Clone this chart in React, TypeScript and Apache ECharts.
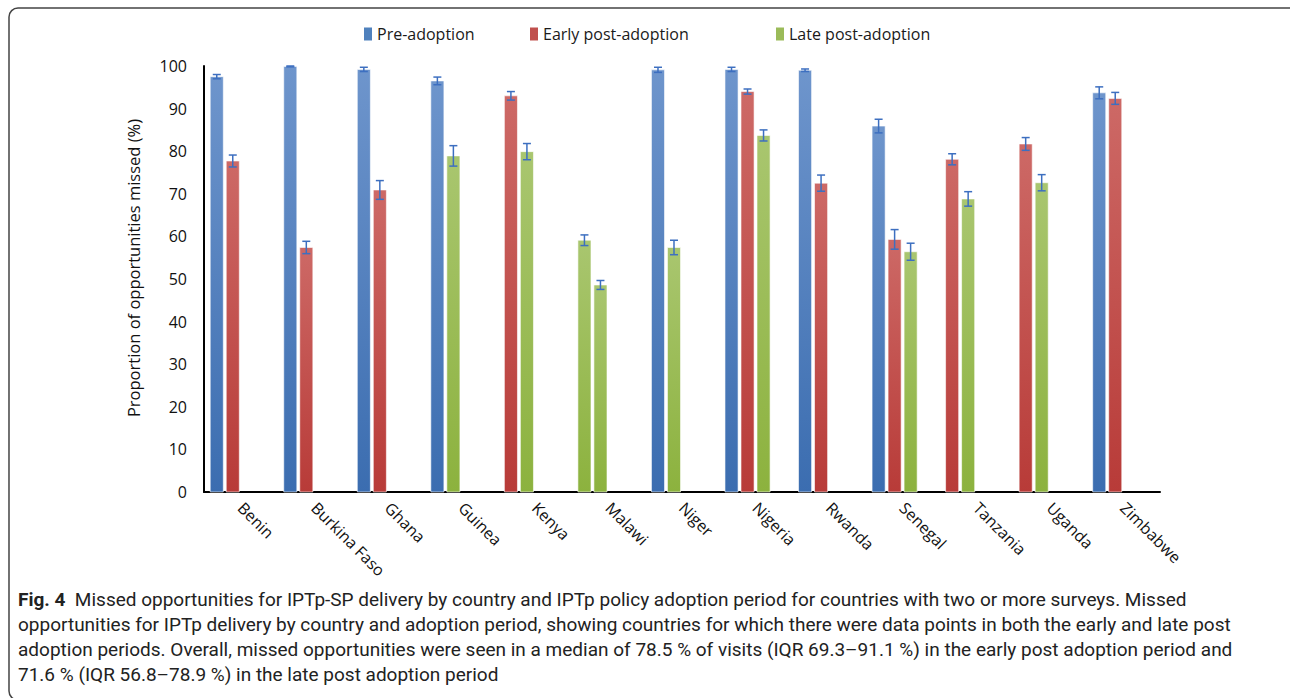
import React, { useEffect, useRef } from "react";
import * as echarts from "echarts";

const countries = [
  "Benin", "Burkina Faso", "Ghana", "Guinea", "Kenya", "Malawi", "Niger",
  "Nigeria", "Rwanda", "Senegal", "Tanzania", "Uganda", "Zimbabwe",
];

// [country, % missed, error half-width]
const preAdoption: [string, number, number][] = [
  ["Benin", 97.5, 0.5], ["Burkina Faso", 99.9, 0.1], ["Ghana", 99.2, 0.5],
  ["Guinea", 96.5, 0.9], ["Niger", 99.1, 0.6], ["Nigeria", 99.2, 0.5],
  ["Rwanda", 99.0, 0.3], ["Senegal", 85.9, 1.6], ["Zimbabwe", 93.7, 1.4],
];
const earlyPostAdoption: [string, number, number][] = [
  ["Benin", 77.7, 1.4], ["Burkina Faso", 57.4, 1.45], ["Ghana", 70.9, 2.2],
  ["Kenya", 93.0, 1.0], ["Nigeria", 94.0, 0.6], ["Rwanda", 72.5, 1.9],
  ["Senegal", 59.3, 2.3], ["Tanzania", 78.1, 1.3], ["Uganda", 81.7, 1.5],
  ["Zimbabwe", 92.4, 1.4],
];
const latePostAdoption: [string, number, number][] = [
  ["Guinea", 78.9, 2.4], ["Kenya", 79.9, 1.9], ["Malawi", 59.1, 1.25],
  ["Malawi", 48.6, 1.05], ["Niger", 57.4, 1.7], ["Nigeria", 83.7, 1.3],
  ["Senegal", 56.4, 2.0], ["Tanzania", 68.8, 1.7], ["Uganda", 72.6, 1.9],
];

const seriesNames = ["Pre-adoption", "Early post-adoption", "Late post-adoption"];
const seriesColors = ["#4f81bd", "#c0504d", "#9bbb59"];
const gradTop = ["#6e95cc", "#cd6966", "#a9c66f"];
const gradBottom = ["#3b6db0", "#b83b38", "#8cb23e"];
const legendLeft = [364, 530, 776];

const captionLines = [
  "opportunities for IPTp delivery by country and adoption period, showing countries for which there were data points in both the early and late post",
  "adoption periods. Overall, missed opportunities were seen in a median of 78.5 % of visits (IQR 69.3–91.1 %) in the early post adoption period and",
  "71.6 % (IQR 56.8–78.9 %) in the late post adoption period",
];
const captionFirst =
  "Missed opportunities for IPTp-SP delivery by country and IPTp policy adoption period for countries with two or more surveys. Missed";

const App = () => {
  const ref = useRef<HTMLDivElement>(null);
  useEffect(() => {
    if (!ref.current) return;
    const chart = echarts.init(ref.current, undefined, { renderer: "svg" });

    const groups = [preAdoption, earlyPostAdoption, latePostAdoption];
    const counters: Record<string, number> = {};
    const seriesData = groups.map((g) =>
      g.map(([c, v, e]) => {
        const idx = countries.indexOf(c);
        const slot = counters[c] || 0;
        counters[c] = slot + 1;
        return [idx, v, slot, e];
      })
    );

    const makeRender = (si: number) => (params: any, api: any) => {
      const cat = api.value(0);
      const v = api.value(1);
      const slot = api.value(2);
      const e = api.value(3);
      const band = api.size([1, 0])[0];
      const base = api.coord([cat, 0]);
      const top = api.coord([cat, v]);
      const cx = base[0] + (slot - 1.5) * band * 0.2177;
      const w = band * 0.178;
      const hi = api.coord([cat, v + e])[1];
      const lo = api.coord([cat, v - e])[1];
      const ec = "#3d6fc0";
      return {
        type: "group",
        children: [
          {
            type: "rect",
            shape: { x: cx - w / 2, y: top[1], width: w, height: base[1] - top[1] },
            style: {
              fill: new echarts.graphic.LinearGradient(0, 0, 0, 1, [
                { offset: 0, color: gradTop[si] },
                { offset: 1, color: gradBottom[si] },
              ]),
              stroke: "rgba(255,255,255,0.6)",
              lineWidth: 1,
            },
          },
          { type: "line", shape: { x1: cx, y1: hi, x2: cx, y2: lo }, style: { stroke: ec, lineWidth: 1.5 } },
          { type: "line", shape: { x1: cx - 4, y1: hi, x2: cx + 4, y2: hi }, style: { stroke: ec, lineWidth: 1.5 } },
          { type: "line", shape: { x1: cx - 4, y1: lo, x2: cx + 4, y2: lo }, style: { stroke: ec, lineWidth: 1.5 } },
        ],
      };
    };

    const font = "'Open Sans', sans-serif";
    const capFont = "Roboto, sans-serif";

    chart.setOption({
      animation: false,
      backgroundColor: "#ffffff",
      textStyle: { fontFamily: font },
      legend: seriesNames.map((name, i) => ({
        data: [name],
        top: 26,
        left: legendLeft[i],
        itemWidth: 8,
        itemHeight: 13,
        icon: "rect",
        padding: 0,
        textStyle: { fontFamily: font, fontSize: 16, color: "#1a1a1a" },
      })),
      grid: { left: 204, right: 130, top: 66, bottom: 206, containLabel: false },
      xAxis: {
        type: "category",
        data: countries,
        axisLine: { lineStyle: { color: "#000", width: 2 } },
        axisTick: { show: false },
        axisLabel: {
          interval: 0,
          rotate: -45,
          margin: 13,
          fontFamily: font,
          fontSize: 16,
          color: "#111",
        },
      },
      yAxis: {
        type: "value",
        min: 0,
        max: 100,
        interval: 10,
        name: "Proportion of opportunities missed (%)",
        nameLocation: "middle",
        nameRotate: 90,
        nameGap: 62,
        nameTextStyle: { fontFamily: font, fontSize: 16.5, color: "#111", padding: [0, 0, 0, 22] },
        axisLine: { show: true, lineStyle: { color: "#000", width: 2 } },
        axisTick: { show: false },
        splitLine: { show: false },
        axisLabel: { fontFamily: font, fontSize: 16, color: "#111", margin: 17 },
      },
      series: seriesNames.map((name, si) => ({
        name,
        type: "custom",
        itemStyle: { color: seriesColors[si] },
        encode: { x: 0, y: 1 },
        renderItem: makeRender(si),
        data: seriesData[si],
      })),
      graphic: [
        {
          type: "rect",
          silent: true,
          shape: { x: 9, y: 8, width: 1300, height: 692, r: 9 },
          style: { fill: "none", stroke: "#444", lineWidth: 1.5 },
        },
        {
          type: "text",
          left: 18,
          top: 590,
          style: {
            text: "{b|Fig. 4}  " + captionFirst,
            rich: { b: { fontWeight: "bold", fontFamily: capFont, fontSize: 19, fill: "#222" } },
            fontFamily: capFont,
            fontSize: 19,
            fill: "#222",
          },
        },
        ...captionLines.map((t, i) => ({
          type: "text",
          left: 18,
          top: 615 + i * 25,
          style: { text: t, fontFamily: capFont, fontSize: 19, fill: "#222" },
        })),
      ],
    });
    return () => chart.dispose();
  }, []);
  return (
    <div
      ref={ref}
      style={{ position: "fixed", left: 0, top: 0, width: 1290, height: 698 }}
    />
  );
};

export default App;
